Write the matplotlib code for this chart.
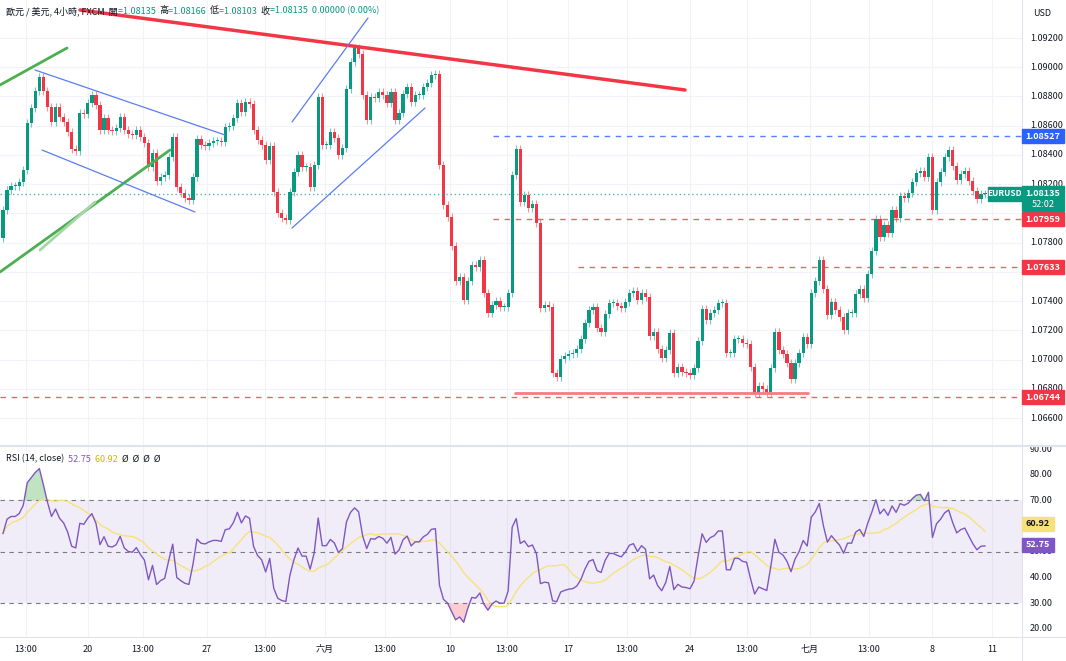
import numpy as np
import matplotlib
matplotlib.use("Agg")
import matplotlib.pyplot as plt
from matplotlib.patches import Rectangle
from matplotlib import font_manager as fm

names = {f.name for f in fm.fontManager.ttflist}
cjk = [n for n in ["Noto Sans CJK TC", "Noto Sans CJK JP", "Noto Sans CJK SC"] if n in names]
plt.rcParams["font.family"] = cjk + ["DejaVu Sans"]

closes = [
1.08024,1.08160,1.08188,1.08188,1.08215,1.08297,1.08619,1.08721,1.08838,1.08933,1.08838,1.08728,1.08626,1.08728,
1.08660,1.08626,1.08557,1.08441,1.08427,1.08687,1.08680,1.08755,1.08810,1.08742,1.08571,1.08653,1.08571,1.08564,
1.08584,1.08660,1.08571,1.08543,1.08537,1.08571,1.08523,1.08482,1.08318,1.08413,1.08222,1.08249,1.08263,1.08386,
1.08523,1.08181,1.08140,1.08106,1.08092,1.08249,1.08509,1.08468,1.08461,1.08482,1.08496,1.08496,1.08489,1.08591,
1.08598,1.08653,1.08755,1.08694,1.08762,1.08749,1.08571,1.08502,1.08468,1.08366,1.08461,1.08147,1.08003,1.07969,
1.07955,1.08147,1.08284,1.08400,1.08318,1.08318,1.08181,1.08331,1.08797,1.08468,1.08468,1.08557,1.08516,1.08400,
1.08448,1.08851,1.09036,1.09132,1.09091,1.08810,1.08639,1.08797,1.08790,1.08831,1.08810,1.08755,1.08831,1.08639,
1.08687,1.08817,1.08865,1.08762,1.08810,1.08810,1.08865,1.08892,1.08947,1.08954,1.08331,1.08058,1.07976,
1.07777,1.07538,1.07565,1.07408,1.07538,1.07647,1.07634,1.07682,1.07456,1.07319,1.07374,1.07401,1.07360,1.07360,
1.07456,1.08263,1.08441,1.08078,1.08126,1.08037,1.08065,1.07935,1.07353,1.07374,1.07360,1.06909,1.06881,1.07004,
1.07025,1.07039,1.07045,1.07073,1.07141,1.07251,1.07340,1.07360,1.07216,1.07189,1.07312,1.07387,1.07387,1.07367,
1.07353,1.07394,1.07456,1.07470,1.07408,1.07456,1.07429,1.07162,1.07189,1.07073,1.07011,1.07066,1.07182,1.06909,
1.06950,1.06916,1.06909,1.06895,1.06943,1.07128,1.07346,1.07271,1.07319,1.07340,1.07387,1.07387,1.07045,1.07045,
1.07141,1.07141,1.07114,1.07107,1.06950,1.06772,1.06820,1.06799,1.06779,1.06943,1.07189,1.07066,1.07039,1.06977,
1.06868,1.06977,1.07045,1.07155,1.07107,
1.07456,1.07538,1.07682,1.07483,1.07305,1.07394,1.07340,1.07292,1.07203,1.07319,1.07319,1.07449,1.07483,1.07422,
1.07586,1.07743,1.07962,1.07839,1.07921,1.07866,1.08024,1.07969,1.08119,1.08106,1.08140,1.08215,1.08277,1.08290,
1.08249,1.08386,1.08024,1.08215,1.08284,1.08386,1.08434,1.08325,1.08229,1.08270,1.08290,1.08222,1.08154,1.08099,
1.08133,1.08135]
first_open = 1.07832
wick = 0.00025

price_ticks = [1.066,1.068,1.070,1.072,1.074,1.076,1.078,1.080,1.082,1.084,1.086,1.088,1.090,1.092]
rsi_ticks = [20,30,40,50,60,70,80,90]
date_labels = ["13:00","20","13:00","27","13:00","六月","13:00","10","13:00","17","13:00","24","13:00","七月","13:00","8","11"]
date_px = [26,88,143,207,265,325,385,450,507,568,627,690,747,810,869,932,992]
levels = {"1.08527":(1.08527,"#2962ff",493),"1.07959":(1.07959,"#f23645",493),
          "1.07633":(1.07633,"#f23645",578),"1.06744":(1.06744,"#f23645",0)}
last_price = 1.08135
rsi_last = 52.75
rsi_ma_last = 60.92

UP = "#089981"; DN = "#f23645"
W, H = 1066, 661
fig = plt.figure(figsize=(W/100, H/100), dpi=100)
AX_R = 1022
ax = fig.add_axes([0, 1-445/H, AX_R/W, 445/H])
ax2 = fig.add_axes([0, 1-637/H, AX_R/W, 190/H])

n = len(closes)
opens = [first_open] + closes[:-1]
def px2i(px):
    return (px-3)/982*(n-1)
def y2p(y):
    return 1.0946-y*0.0000684

for i,(o,c) in enumerate(zip(opens,closes)):
    col = UP if c >= o else DN
    lo, hi = min(o,c), max(o,c)
    ax.vlines(i, lo-wick, hi+wick, color=col, lw=0.8, alpha=0.55)
    ax.add_patch(Rectangle((i-0.4, lo), 0.8, max(hi-lo,0.00004), color=col, lw=0))

ymin, ymax = y2p(445), y2p(0)
xlim = (px2i(0), px2i(AX_R))
ax.set_xlim(xlim); ax.set_ylim(ymin, ymax)
for t in price_ticks:
    ax.axhline(t, color="#f0f3fa", lw=0.8, zorder=0)
xt = [px2i(p) for p in date_px]
for x in xt:
    ax.axvline(x, color="#f0f3fa", lw=0.8, zorder=0)
    ax2.axvline(x, color="#f0f3fa", lw=0.8, zorder=0)

def seg(x0,y0,x1,y1,col,lw):
    ax.plot([px2i(x0),px2i(x1)],[y2p(y0),y2p(y1)],color=col,lw=lw,solid_capstyle="round")
seg(80,10,685,90,"#f23645",2.5)
seg(0,85,67,48,"#4caf50",2)
seg(0,272,170,150,"#4caf50",2)
seg(40,250,95,202,"#a5d6a7",2)
seg(35,70,225,135,"#5b7cf5",0.9)
seg(42,150,195,212,"#5b7cf5",0.9)
seg(292,122,368,18,"#5b7cf5",0.9)
seg(292,228,425,108,"#5b7cf5",0.9)
seg(515,393,808,393,"#f77c80",2)

for k,(v,col,x0) in levels.items():
    ax.plot([px2i(x0), xlim[1]],[v,v],color=col,lw=1,ls=(0,(4,4)),alpha=0.8)
ax.axhline(last_price, color=UP, lw=1, ls=(0,(1,2)), alpha=0.7)

ax.set_xticks([]); ax.set_yticks([])
for a in (ax, ax2):
    for s in a.spines.values(): s.set_visible(False)

FS = 6.5
def ypix(v):
    return (v-ymax)/(ymin-ymax)*445
for t in price_ticks:
    fig.text(1030/W, 1-ypix(t)/H, f"{t:.5f}", fontsize=FS, color="#131722", va="center", ha="left", zorder=1)
def tag(y, txt, col, x0=1022, x1=1064, fs=FS):
    yy = 1-y/H
    fig.patches.append(Rectangle((x0/W, yy-7/H), (x1-x0)/W, 14/H, transform=fig.transFigure, color=col, zorder=5))
    fig.text((x0+(x1-x0)/2)/W, yy, txt, fontsize=fs, color="white", ha="center", va="center", zorder=6, weight="bold")
for k,(v,col,x0) in levels.items():
    tag(ypix(v), k, col)
ylp = ypix(last_price)
fig.patches.append(Rectangle((1022/W, 1-(ylp+17)/H), 42/W, 25/H, transform=fig.transFigure, color=UP, zorder=5))
fig.text(1043/W, 1-(ylp)/H, "1.08135", fontsize=FS, color="white", ha="center", va="center", zorder=6, weight="bold")
fig.text(1043/W, 1-(ylp+11)/H, "52:02", fontsize=FS, color="white", ha="center", va="center", zorder=6)
tag(ylp, "EURUSD", UP, 988, 1021, 6)
fig.text(1033/W, 1-13/H, "USD", fontsize=FS, color="#131722", va="center")
fig.add_artist(plt.Line2D([1022/W,1022/W],[0,1],color="#e0e3eb",lw=0.8))
fig.add_artist(plt.Line2D([0,1],[1-446/H,1-446/H],color="#e0e3eb",lw=1.5))
fig.add_artist(plt.Line2D([0,1],[1-637/H,1-637/H],color="#e0e3eb",lw=0.8))

fig.canvas.draw()
r = fig.canvas.get_renderer()
def runs(parts, x, y):
    for s,c in parts:
        t = fig.text(x/W, 1-y/H, s, fontsize=FS, color=c, va="center")
        x += t.get_window_extent(r).width
hdr = [("歐元 / 美元, 4小時, FXCM  開","#131722"),("=1.08135  ",UP),("高","#131722"),("=1.08166  ",UP),
       ("低","#131722"),("=1.08103  ",UP),("收","#131722"),("=1.08135  0.00000 (0.00%)",UP)]
runs(hdr, 6, 11)

# RSI
cl = np.array(closes)
d = np.diff(cl, prepend=first_open)
g = np.clip(d,0,None); l = np.clip(-d,0,None)
ag = np.zeros(n); al = np.zeros(n)
ag[0], al[0] = 0.0004, 0.0003
for i in range(1,n):
    ag[i] = (ag[i-1]*13+g[i])/14; al[i] = (al[i-1]*13+l[i])/14
rsi = 100-100/(1+ag/al)
ma = np.array([rsi[max(0,i-13):i+1].mean() for i in range(n)])
ax2.set_xlim(xlim)
ax2.set_ylim(20-8/2.57, 90+2/2.57)
idx = np.arange(n)
ax2.axhspan(30,70,color="#7e57c2",alpha=0.1,lw=0)
for lv in (70,50,30):
    ax2.axhline(lv,color="#787b86",lw=0.8,ls=(0,(4,4)))
ax2.fill_between(idx,70,rsi,where=rsi>70,color="#4caf50",alpha=0.35,interpolate=True,lw=0)
ax2.fill_between(idx,30,rsi,where=rsi<30,color="#f23645",alpha=0.25,interpolate=True,lw=0)
ax2.plot(idx,ma,color="#f7e27a",lw=1)
ax2.plot(idx,rsi,color="#7e57c2",lw=1)
ax2.set_xticks([]); ax2.set_yticks([])
for v in rsi_ticks:
    fig.text(1030/W, 1-(449+(90-v)*2.57)/H, f"{v:.2f}", fontsize=FS, color="#131722", va="center", zorder=1)
def rtag(v, txt, bg, fg):
    y = 449+(90-v)*2.57
    fig.patches.append(Rectangle((1022/W, 1-(y+7)/H), 32/W, 14/H, transform=fig.transFigure, color=bg, zorder=5))
    fig.text(1038/W, 1-y/H, txt, fontsize=FS, color=fg, ha="center", va="center", zorder=6, weight="bold")
rtag(rsi_ma_last, f"{rsi_ma_last:.2f}", "#f7e27a", "#131722")
rtag(rsi_last, f"{rsi_last:.2f}", "#7e57c2", "white")
runs([("RSI (14, close)  ","#131722"),(f"{rsi_last:.2f}  ","#7e57c2"),(f"{rsi_ma_last:.2f}  ","#c9b800"),
      ("Ø  Ø  Ø  Ø","#131722")], 6, 459)

for p,lab in zip(date_px,date_labels):
    fig.text(p/W, 1-649/H, lab, fontsize=FS, color="#131722", ha="center", va="center")

fig.savefig("out.png", dpi=100, facecolor="white")
